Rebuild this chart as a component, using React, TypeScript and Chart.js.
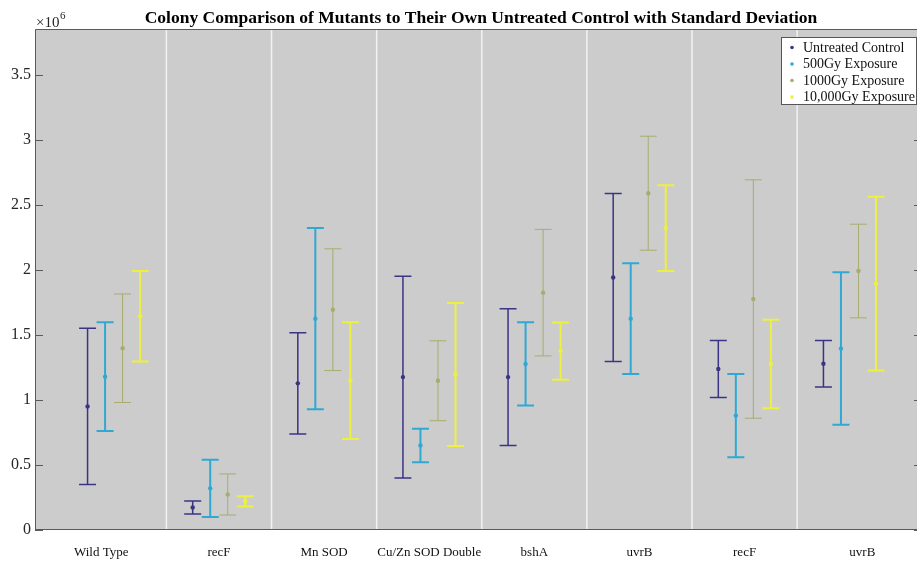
import React, { useEffect, useRef } from "react";
import { Chart, registerables } from "chart.js";

Chart.register(...registerables);

// ---- data (values in units of 10^6 colonies) ----
const groups = ["Wild Type", "recF", "Mn SOD", "Cu/Zn SOD Double", "bshA", "uvrB", "recF", "uvrB"];
const groupLabelPositions = [0.88, 2, 3, 4, 5, 6, 7, 8.12];
const groupBoundaries = [1.5, 2.5, 3.5, 4.5, 5.5, 6.5, 7.5];
const yTicks = [0, 0.5, 1, 1.5, 2, 2.5, 3, 3.5];

const seriesNames = ["Untreated Control", "500Gy Exposure", "1000Gy Exposure", "10,000Gy Exposure"];
const seriesColors = ["#3b3484", "#2fa9d3", "#a8ac6d", "#eef03e"];
const seriesLineWidths = [1.5, 2, 1, 2];

const untreatedMean = [0.95, 0.173, 1.127, 1.175, 1.175, 1.94, 1.237, 1.277];
const untreatedSD = [0.6, 0.05, 0.389, 0.775, 0.526, 0.646, 0.219, 0.179];
const gy500Mean = [1.178, 0.32, 1.624, 0.649, 1.276, 1.624, 0.879, 1.394];
const gy500SD = [0.418, 0.22, 0.696, 0.129, 0.32, 0.426, 0.32, 0.586];
const gy1000Mean = [1.397, 0.273, 1.693, 1.147, 1.824, 2.588, 1.775, 1.99];
const gy1000SD = [0.417, 0.158, 0.468, 0.307, 0.486, 0.438, 0.916, 0.36];
const gy10000Mean = [1.643, 0.22, 1.148, 1.195, 1.375, 2.32, 1.276, 1.893];
const gy10000SD = [0.348, 0.04, 0.448, 0.549, 0.22, 0.33, 0.34, 0.668];

const seriesMeans = [untreatedMean, gy500Mean, gy1000Mean, gy10000Mean];
const seriesSDs = [untreatedSD, gy500SD, gy1000SD, gy10000SD];

const SERIF = '"Liberation Serif", "Times New Roman", serif';

const xFor = (g: number, s: number) => g + 1 + (s - 1.5) / 6;

const decorPlugin = {
  id: "decor",
  beforeDraw(chart: any) {
    const { ctx, chartArea: a, scales } = chart;
    ctx.save();
    ctx.fillStyle = "#cccccc";
    ctx.fillRect(a.left, a.top, a.right - a.left, a.bottom - a.top);
    ctx.strokeStyle = "#f2f2f2";
    ctx.lineWidth = 1.5;
    groupBoundaries.forEach((b) => {
      const x = scales.x.getPixelForValue(b);
      ctx.beginPath();
      ctx.moveTo(x, a.top);
      ctx.lineTo(x, a.bottom);
      ctx.stroke();
    });
    ctx.restore();
  },
  beforeDatasetsDraw(chart: any) {
    const { ctx, chartArea: a, scales } = chart;
    ctx.save();
    ctx.beginPath();
    ctx.rect(a.left, a.top, a.right - a.left, a.bottom - a.top);
    ctx.clip();
    seriesMeans.forEach((means, s) => {
      ctx.strokeStyle = seriesColors[s];
      ctx.lineWidth = seriesLineWidths[s];
      means.forEach((m, g) => {
        const sd = seriesSDs[s][g];
        const x = scales.x.getPixelForValue(xFor(g, s));
        const yLo = scales.y.getPixelForValue(m - sd);
        const yHi = scales.y.getPixelForValue(m + sd);
        const cap = 8.5;
        ctx.beginPath();
        ctx.moveTo(x, yLo);
        ctx.lineTo(x, yHi);
        ctx.moveTo(x - cap, yLo);
        ctx.lineTo(x + cap, yLo);
        ctx.moveTo(x - cap, yHi);
        ctx.lineTo(x + cap, yHi);
        ctx.stroke();
      });
    });
    ctx.restore();
  },
  afterDraw(chart: any) {
    const { ctx, chartArea: a, scales } = chart;
    ctx.save();
    // axes box
    ctx.strokeStyle = "#5a5a5a";
    ctx.lineWidth = 1;
    ctx.beginPath();
    ctx.moveTo(a.left + 0.5, a.bottom);
    ctx.lineTo(a.left + 0.5, a.top + 0.5);
    ctx.lineTo(a.right, a.top + 0.5);
    ctx.moveTo(a.left, a.bottom - 0.5);
    ctx.lineTo(a.right, a.bottom - 0.5);
    ctx.stroke();
    // inner ticks
    yTicks.forEach((t) => {
      const y = Math.round(scales.y.getPixelForValue(t)) + 0.5;
      ctx.beginPath();
      ctx.moveTo(a.left, y);
      ctx.lineTo(a.left + 8, y);
      ctx.moveTo(a.right, y);
      ctx.lineTo(a.right - 3, y);
      ctx.stroke();
    });
    // title
    ctx.fillStyle = "#000";
    ctx.font = `bold 17.5px ${SERIF}`;
    ctx.textAlign = "center";
    ctx.textBaseline = "alphabetic";
    ctx.fillText("Colony Comparison of Mutants to Their Own Untreated Control with Standard Deviation", 481, 23);
    // exponent
    ctx.fillStyle = "#262626";
    ctx.textAlign = "left";
    ctx.font = `15px ${SERIF}`;
    ctx.fillText("\u00d710", a.left + 1, 26.5);
    const w = ctx.measureText("\u00d710").width;
    ctx.font = `11px ${SERIF}`;
    ctx.fillText("6", a.left + 1 + w + 0.5, 19);
    // legend
    const lx = 781, ly = 37, lw = 135, lh = 67;
    ctx.fillStyle = "#ffffff";
    ctx.fillRect(lx, ly, lw, lh);
    ctx.strokeStyle = "#555";
    ctx.strokeRect(lx + 0.5, ly + 0.5, lw, lh);
    ctx.font = `14px ${SERIF}`;
    ctx.textBaseline = "middle";
    seriesNames.forEach((n, i) => {
      const y = ly + 10.5 + i * 16.5;
      ctx.fillStyle = seriesColors[i];
      ctx.beginPath();
      ctx.arc(lx + 11, y, 1.8, 0, Math.PI * 2);
      ctx.fill();
      ctx.fillStyle = "#111";
      ctx.fillText(n, lx + 22, y + 0.5);
    });
    ctx.restore();
  },
};

export default function App() {
  const ref = useRef<HTMLCanvasElement | null>(null);
  useEffect(() => {
    if (!ref.current) return;
    const datasets = seriesNames.map((name, s) => ({
      label: name,
      data: seriesMeans[s].map((m, g) => ({ x: xFor(g, s), y: m })),
      backgroundColor: seriesColors[s],
      borderColor: seriesColors[s],
      pointRadius: 2.2,
      pointBorderWidth: 0,
      showLine: false,
    }));
    const chart = new Chart(ref.current, {
      type: "scatter",
      data: { datasets },
      options: {
        animation: false,
        responsive: true,
        maintainAspectRatio: false,
        layout: { autoPadding: false, padding: { top: 29, right: 1, left: 0, bottom: 0 } },
        plugins: { legend: { display: false }, tooltip: { enabled: false }, title: { display: false } },
        scales: {
          x: {
            type: "linear",
            min: 0.25,
            max: 8.64,
            afterBuildTicks: (s: any) => {
              s.ticks = groupLabelPositions.map((v) => ({ value: v }));
            },
            afterFit: (s: any) => {
              s.height = 33;
              s.paddingLeft = 0;
              s.paddingRight = 0;
            },
            ticks: {
              autoSkip: false,
              maxRotation: 0,
              padding: 15,
              color: "#111",
              font: { family: SERIF, size: 13 },
              callback: (_v: any, i: number) => groups[i],
            },
            grid: { display: false, drawTicks: false },
            border: { display: false },
          },
          y: {
            type: "linear",
            min: 0,
            max: 3.85,
            afterBuildTicks: (s: any) => {
              s.ticks = yTicks.map((v) => ({ value: v }));
            },
            afterFit: (s: any) => {
              s.width = 35;
              s.paddingTop = 0;
              s.paddingBottom = 0;
            },
            ticks: {
              padding: 4,
              color: "#262626",
              font: { family: SERIF, size: 16 },
              callback: (v: any) => String(v),
            },
            grid: { display: false, drawTicks: false },
            border: { display: false },
          },
        },
      },
      plugins: [decorPlugin],
    });
    return () => chart.destroy();
  }, []);
  return (
    <div style={{ position: "absolute", left: 0, top: 0, width: 918, height: 563, background: "#fff" }}>
      <canvas ref={ref} />
    </div>
  );
}
